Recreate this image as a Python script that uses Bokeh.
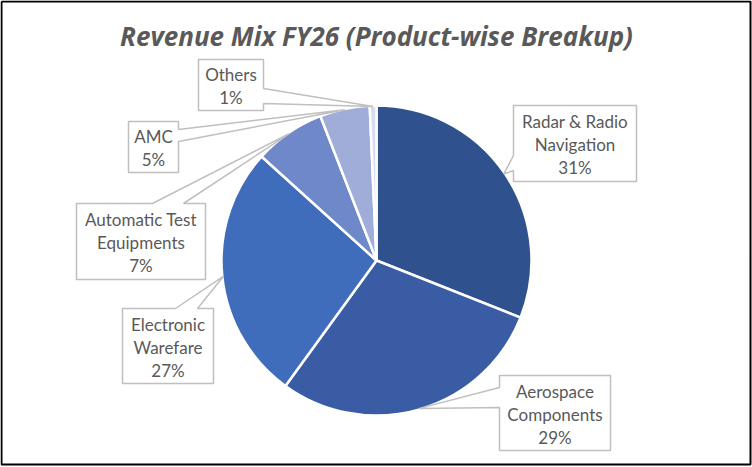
import math
from bokeh.plotting import figure
from bokeh.models import Range1d, ColumnDataSource
from bokeh.core.properties import value
from bokeh.embed import file_html
from bokeh.resources import INLINE

# ---------------- data ----------------
title = "Revenue Mix FY26 (Product-wise Breakup)"
categories = ["Radar & Radio Navigation", "Aerospace Components", "Electronic Warfare",
              "Automatic Test Equipments", "AMC", "Others"]
label_lines = [["Radar & Radio", "Navigation"], ["Aerospace", "Components"],
               ["Electronic", "Warefare"], ["Automatic Test", "Equipments"],
               ["AMC"], ["Others"]]
shares = [31.0, 29.0, 26.7, 7.4, 5.2, 0.7]
colors = ["#2F528F", "#3A5CA4", "#3F6CBB", "#6E88C9", "#9FADD8", "#D6DDEF"]

# ---------------- layout ----------------
W, H = 752, 467
def Y(y):
    return H - y

p = figure(width=W, height=H, x_range=Range1d(0, W), y_range=Range1d(0, H),
           output_backend="svg", toolbar_location=None, min_border=0)
p.axis.visible = False
p.grid.visible = False
p.outline_line_color = None
p.background_fill_color = "white"
p.border_fill_color = "white"

cx, cy, R = 376, 260, 155

total = sum(shares)
starts, ends, mids = [], [], []
acc = 0.0
for v in shares:
    a0 = math.pi / 2 - 2 * math.pi * acc / total
    acc += v
    a1 = math.pi / 2 - 2 * math.pi * acc / total
    starts.append(a0)
    ends.append(a1)
    mids.append((a0 + a1) / 2)

src = ColumnDataSource(dict(start=starts, end=ends, color=colors, cat=categories))
p.wedge(x=cx, y=Y(cy), radius=R, start_angle="start", end_angle="end",
        direction="clock", fill_color="color", line_color="white",
        line_width=2.5, source=src)

# callout boxes: (left, top, right, bottom), side, base range
boxes = [
    ((513, 105, 636, 181), "left", (155, 170)),
    ((499, 375, 610, 450), "left", (387, 407)),
    ((122, 308, 213, 383), "top", (175, 197)),
    ((76, 203, 205, 279), "top", (152, 183)),
    ((128, 121, 178, 172), "right", (129, 141)),
    ((198, 59, 263, 110), "right", (88, 103)),
]

xs, ys = [], []
tx, ty, tt = [], [], []
for i, ((l, t, r, b), side, (a1, a2)) in enumerate(boxes):
    ang = mids[i]
    tipx = cx + (R - 1) * math.cos(ang)
    tipy = cy - (R - 1) * math.sin(ang)
    if side == "right":
        pts = [(l, t), (r, t), (r, a1), (tipx, tipy), (r, a2), (r, b), (l, b)]
    elif side == "top":
        pts = [(l, t), (a1, t), (tipx, tipy), (a2, t), (r, t), (r, b), (l, b)]
    else:
        pts = [(l, t), (r, t), (r, b), (l, b), (l, a2), (tipx, tipy), (l, a1)]
    xs.append([q[0] for q in pts])
    ys.append([Y(q[1]) for q in pts])
    lines = label_lines[i] + [f"{round(shares[i])}%"]
    n = len(lines)
    center = (t + b) / 2
    sp = 23
    for k, s in enumerate(lines):
        tx.append((l + r) / 2)
        ty.append(Y(center - sp * (n - 1) / 2 + k * sp + 1))
        tt.append(s)

p.patches(xs, ys, fill_color="white", line_color="#BFBFBF", line_width=1.5)
p.text(x=tx, y=ty, text=tt, text_font=value("Lato"), text_font_size="17px",
       text_color="#595959", text_align="center", text_baseline="alphabetic")

# title
p.text(x=[376], y=[Y(35)], text=[title], text_font=value("Open Sans"),
       text_font_style="bold italic", text_font_size="26px",
       text_color="#595959", text_align="center", text_baseline="alphabetic")

# outer frame
p.line(x=[1, 750, 750, 1, 1], y=[Y(1), Y(1), Y(464), Y(464), Y(1)],
       line_color="black", line_width=2)

open("out.html", "w").write(file_html(p, INLINE))
